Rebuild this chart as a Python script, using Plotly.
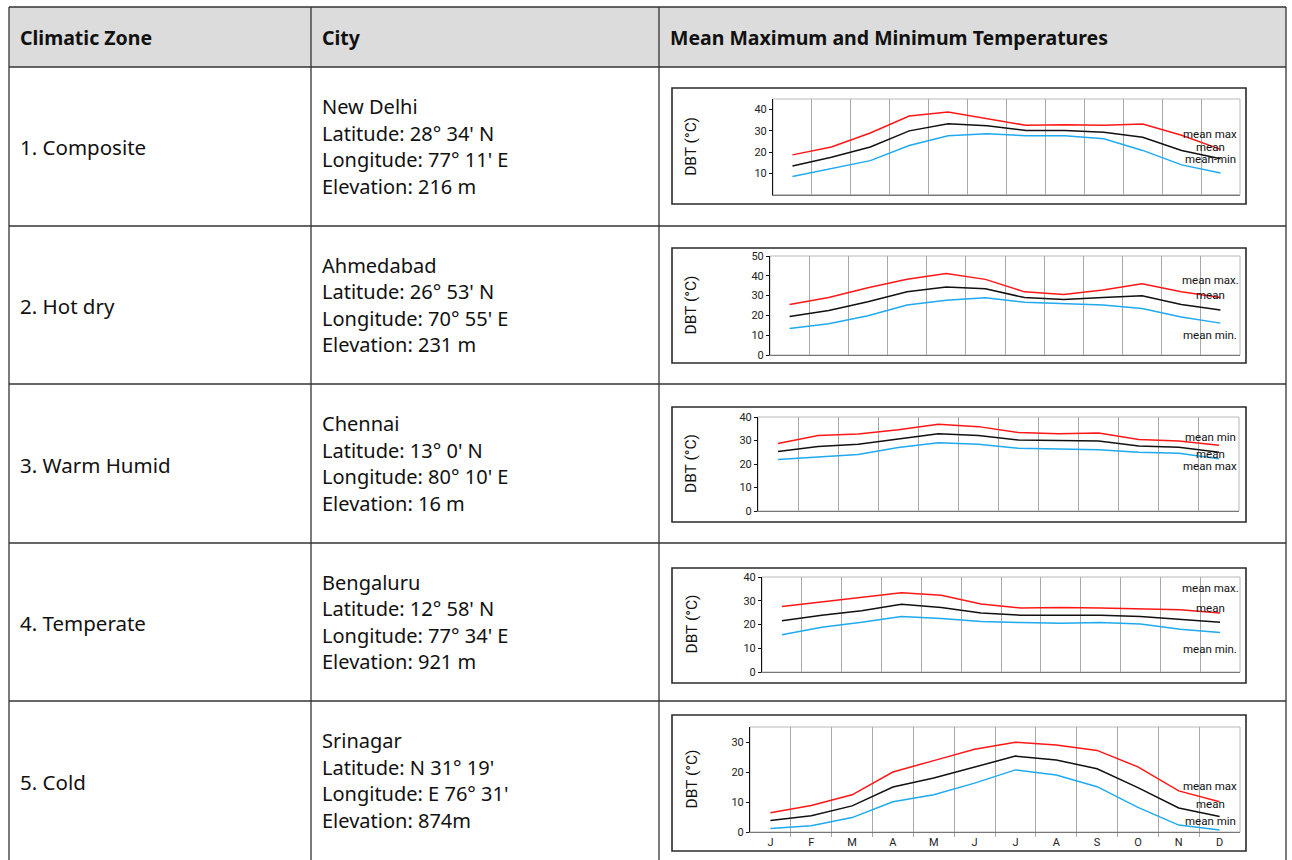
import plotly.graph_objects as go

W, H = 1292, 860

months = ["J", "F", "M", "A", "M", "J", "J", "A", "S", "O", "N", "D"]

zones = ["1. Composite", "2. Hot dry", "3. Warm Humid", "4. Temperate", "5. Cold"]
cities = [
    ["New Delhi", "Latitude: 28° 34' N", "Longitude: 77° 11' E", "Elevation: 216 m"],
    ["Ahmedabad", "Latitude: 26° 53' N", "Longitude: 70° 55' E", "Elevation: 231 m"],
    ["Chennai", "Latitude: 13° 0' N", "Longitude: 80° 10' E", "Elevation: 16 m"],
    ["Bengaluru", "Latitude: 12° 58' N", "Longitude: 77° 34' E", "Elevation: 921 m"],
    ["Srinagar", "Latitude: N 31° 19'", "Longitude: E 76° 31'", "Elevation: 874m"],
]
headers = ["Climatic Zone", "City", "Mean Maximum and Minimum Temperatures"]

delhi_max = [18.7, 22.4, 29.0, 37.0, 38.9, 35.7, 32.6, 32.9, 32.6, 33.2, 27.9, 21.3]
delhi_mean = [13.5, 17.6, 22.4, 30.0, 33.4, 32.4, 30.2, 30.2, 29.4, 27.0, 20.8, 16.9]
delhi_min = [8.5, 12.4, 16.0, 23.1, 27.7, 28.7, 27.7, 27.7, 26.3, 20.8, 14.0, 10.2]

ahmedabad_max = [25.5, 29.0, 34.0, 38.3, 41.2, 38.2, 31.9, 30.6, 32.8, 36.0, 31.9, 29.0]
ahmedabad_mean = [19.5, 22.5, 26.9, 31.9, 34.3, 33.4, 29.0, 28.0, 29.0, 29.9, 25.5, 22.7]
ahmedabad_min = [13.4, 15.8, 19.8, 25.2, 27.6, 28.9, 26.6, 25.9, 25.2, 23.5, 19.2, 16.1]

chennai_max = [28.7, 32.1, 32.8, 34.6, 36.9, 35.9, 33.4, 32.9, 33.2, 30.4, 29.8, 28.0]
chennai_mean = [25.3, 27.4, 28.4, 30.8, 32.9, 32.1, 30.2, 30.0, 29.8, 27.7, 27.1, 25.0]
chennai_min = [21.9, 22.8, 24.0, 27.0, 29.0, 28.4, 26.7, 26.4, 26.1, 25.0, 24.6, 22.2]

bengaluru_max = [27.6, 29.5, 31.2, 33.4, 32.3, 28.6, 26.9, 27.2, 26.9, 26.5, 26.2, 24.8]
bengaluru_mean = [21.6, 23.9, 25.8, 28.5, 27.2, 24.8, 23.9, 23.9, 23.9, 23.4, 22.3, 20.9]
bengaluru_min = [15.7, 18.8, 20.9, 23.4, 22.5, 21.3, 20.8, 20.5, 20.8, 20.2, 18.0, 16.6]

srinagar_max = [6.4, 8.8, 12.4, 20.0, 23.8, 27.6, 29.9, 29.0, 27.2, 21.7, 13.7, 10.1]
srinagar_mean = [3.8, 5.4, 8.7, 15.0, 18.0, 21.7, 25.3, 24.0, 21.1, 14.8, 8.0, 5.2]
srinagar_min = [1.2, 2.1, 4.8, 10.1, 12.4, 16.3, 20.7, 19.0, 15.1, 8.2, 2.3, 0.7]

series = [
    (delhi_max, delhi_mean, delhi_min),
    (ahmedabad_max, ahmedabad_mean, ahmedabad_min),
    (chennai_max, chennai_mean, chennai_min),
    (bengaluru_max, bengaluru_mean, bengaluru_min),
    (srinagar_max, srinagar_mean, srinagar_min),
]
y_ranges = [45, 50, 40, 40, 35]
y_ticks = [[10, 20, 30, 40], [0, 10, 20, 30, 40, 50], [0, 10, 20, 30, 40],
           [0, 10, 20, 30, 40], [0, 10, 20, 30]]
label_sets = [
    ["mean max", "mean", "mean-min"],
    ["mean max.", "mean", "mean min."],
    ["mean min", "mean", "mean max"],
    ["mean max.", "mean", "mean min."],
    ["mean max", "mean", "mean min"],
]

# ---------- layout geometry (pixels) ----------
plot_px = [  # x0, x1, ytop, ybottom
    (773, 1240, 99, 194.6),
    (770, 1240, 256, 355),
    (758, 1239, 417, 511),
    (762, 1240, 577, 672),
    (750, 1240, 727, 832),
]
box_px = [(672, 1246, 88, 204), (672, 1246, 248, 363), (672, 1246, 407, 522),
          (672, 1246, 568, 683), (672, 1246, 715, 851)]
label_y_px = [(134, 147, 159), (280, 295, 335), (437, 454, 466),
              (588, 608, 649), (786, 804, 821)]
row_edges = [67, 226, 384, 543, 701, 860]

def X(px):
    return px / W

def Y(py):
    return 1 - py / H

RED, BLACK, BLUE = "#ff1717", "#111111", "#1fa9ee"
TFONT = "Noto Sans"
CFONT = "Roboto"

fig = go.Figure()
shapes = []
annotations = []

# table
TL, TR, TT = 9, 1286, 7
shapes.append(dict(type="rect", xref="paper", yref="paper", x0=X(TL), x1=X(TR), y0=Y(67), y1=Y(TT),
                   fillcolor="#dcdcdc", line=dict(width=0), layer="below"))
line_c = "#333333"
for yy in [TT] + row_edges[:-1]:
    shapes.append(dict(type="line", xref="paper", yref="paper", x0=X(TL), x1=X(TR), y0=Y(yy), y1=Y(yy),
                       line=dict(color=line_c, width=1.3)))
for xx in [TL, 311, 659, TR]:
    shapes.append(dict(type="line", xref="paper", yref="paper", x0=X(xx), x1=X(xx), y0=Y(TT), y1=Y(H + 2),
                       line=dict(color=line_c, width=1.3)))

for hx, htxt in zip([18, 320, 668], headers):
    annotations.append(dict(x=X(hx), y=Y(37), xref="paper", yref="paper", text="<b>" + htxt + "</b>",
                            showarrow=False, xanchor="left", yanchor="middle",
                            font=dict(family=TFONT, size=19.5, color="#111111")))

for r in range(5):
    yc = (row_edges[r] + row_edges[r + 1]) / 2
    annotations.append(dict(x=X(18), y=Y(yc + 1), xref="paper", yref="paper", text=zones[r],
                            showarrow=False, xanchor="left", yanchor="middle",
                            font=dict(family=TFONT, size=20.5, color="#111111")))
    for k, ln in enumerate(cities[r]):
        annotations.append(dict(x=X(320), y=Y(yc + (k - 1.5) * 26.5), xref="paper", yref="paper", text=ln,
                                showarrow=False, xanchor="left", yanchor="middle",
                                font=dict(family=TFONT, size=20, color="#111111")))

# charts
for i in range(5):
    n = i + 1
    xa = "x" if n == 1 else f"x{n}"
    ya = "y" if n == 1 else f"y{n}"
    x0, x1, yt, yb = plot_px[i]
    mx, mn_, mi = series[i]
    for vals, col, nm in [(mx, RED, "mean max"), (mn_, BLACK, "mean"), (mi, BLUE, "mean min")]:
        fig.add_trace(go.Scatter(x=list(range(12)), y=vals, mode="lines", name=nm,
                                 line=dict(color=col, width=1.5), xaxis=xa, yaxis=ya,
                                 showlegend=False, hoverinfo="skip"))
    last = n == 5
    fig.update_layout({
        ("xaxis" if n == 1 else f"xaxis{n}"): dict(
            domain=[X(x0), X(x1)], anchor=ya, range=[-0.5, 11.5], automargin=False,
            tickmode="array", tickvals=list(range(12)), ticktext=months,
            showticklabels=last, ticks="", showgrid=False, zeroline=False,
            showline=True, linecolor="#777777", linewidth=1,
            tickfont=dict(family=CFONT, size=11, color="#222222"),
            minor=dict(tickmode="array", tickvals=[k + 0.5 for k in range(11)],
                       showgrid=True, gridcolor="#a8a8a8", gridwidth=1,
                       ticks="outside" if last else "", ticklen=4, tickcolor="#a8a8a8"),
            fixedrange=True,
        ),
        ("yaxis" if n == 1 else f"yaxis{n}"): dict(
            domain=[Y(yb), Y(yt)], anchor=xa, range=[0, y_ranges[i]], automargin=False,
            tickmode="array", tickvals=y_ticks[i], ticks="outside", ticklen=3,
            tickcolor="#111111", showgrid=False, zeroline=False,
            showline=True, linecolor="#111111", linewidth=1,
            tickfont=dict(family=CFONT, size=11, color="#222222"),
            fixedrange=True,
        ),
    })
    # plot frame
    shapes.append(dict(type="rect", xref=f"{xa} domain", yref=f"{ya} domain", x0=0, x1=1, y0=0, y1=1,
                       line=dict(color="#b8b8b8", width=1), layer="below"))
    # outer box
    bx0, bx1, by0, by1 = box_px[i]
    shapes.append(dict(type="rect", xref="paper", yref="paper", x0=X(bx0), x1=X(bx1), y0=Y(by1), y1=Y(by0),
                       line=dict(color="#2a2a2a", width=1.6)))
    # y title
    annotations.append(dict(x=X(691), y=Y((yt + yb) / 2), xref="paper", yref="paper", text="DBT (°C)",
                            textangle=-90, showarrow=False, xanchor="center", yanchor="middle",
                            font=dict(family=CFONT, size=15.5, color="#111111")))
    for lbl, ly in zip(label_sets[i], label_y_px[i]):
        annotations.append(dict(x=X(1210), y=Y(ly), xref="paper", yref="paper", text=lbl,
                                showarrow=False, xanchor="center", yanchor="middle",
                                font=dict(family=CFONT, size=11.5, color="#111111")))

fig.update_layout(width=W, height=H, margin=dict(l=0, r=0, t=0, b=0, autoexpand=False),
                  paper_bgcolor="white", plot_bgcolor="rgba(0,0,0,0)",
                  shapes=shapes, annotations=annotations, showlegend=False)

fig.write_html("out.html", config={"displayModeBar": False},
               post_script="document.body.style.margin='0';document.body.style.overflow='hidden';")
